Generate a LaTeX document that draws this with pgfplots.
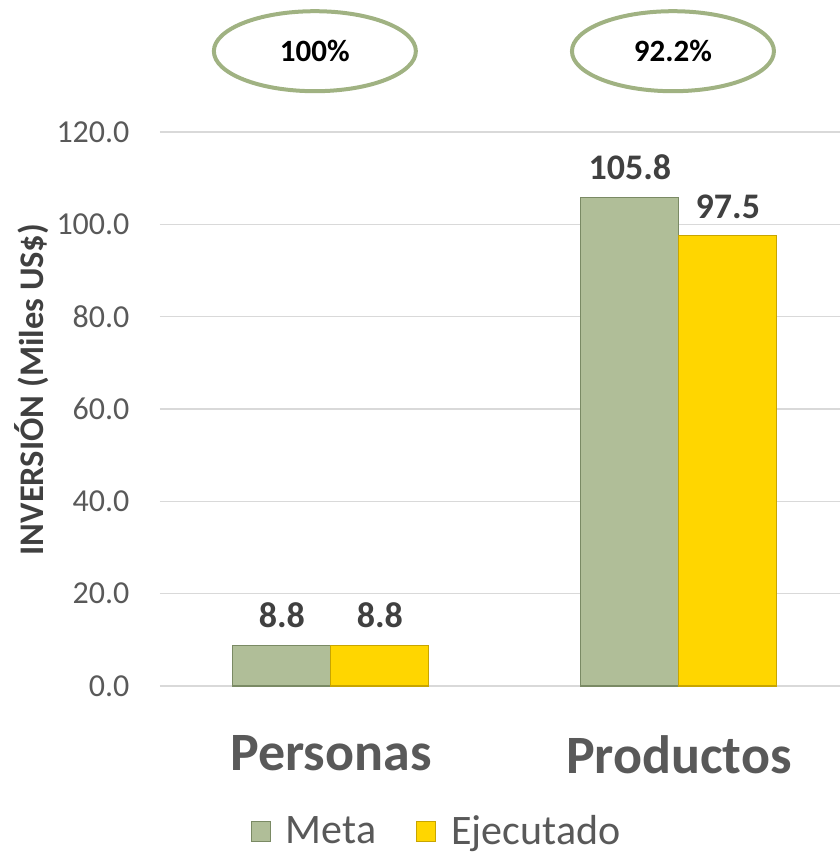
\documentclass[border=0pt]{standalone}
\usepackage{fontspec}
\setmainfont{Carlito}
\usepackage{pgfplots}
\pgfplotsset{compat=1.18}
\usetikzlibrary{shapes.geometric}
\definecolor{meta}{RGB}{176,190,152}
\definecolor{metab}{RGB}{122,138,100}
\definecolor{ejec}{RGB}{255,214,0}
\definecolor{ejecb}{RGB}{200,165,0}
\definecolor{gridc}{RGB}{217,217,217}
\definecolor{tickc}{RGB}{89,89,89}
\definecolor{lab}{RGB}{64,64,64}
\definecolor{ell}{RGB}{160,178,130}
\begin{document}
\begin{tikzpicture}
\useasboundingbox (0,0) rectangle (840pt,855pt);
\begin{axis}[
  at={(160pt,169pt)}, anchor=south west,
  scale only axis, width=680pt, height=554pt,
  ybar=0pt, bar width=98pt,
  xmin=-0.491, xmax=1.463,
  ymin=0, ymax=120,
  xtick={0,1}, xticklabels={Personas,Productos},
  ytick={0,20,...,120},
  ymajorgrids, grid style={gridc, line width=1.5pt},
  axis line style={draw=none},
  major tick length=0pt,
  /pgf/number format/assume math mode=true,
  yticklabel={\pgfmathprintnumber[fixed,fixed zerofill,precision=1]{\tick}},
  yticklabel style={font=\fontsize{32}{38}\selectfont, text=tickc, xshift=-27pt},
  xticklabel style={font=\fontsize{54}{60}\selectfont\bfseries, text=tickc, yshift=-46pt},
  ylabel={\textbf{INVERSIÓN (Miles US\$)}},
  ylabel style={font=\fontsize{34.5}{40}\selectfont, text=lab, at={(rel axis cs:0,0.535)}, anchor=center, xshift=0pt, yshift=128pt},
  nodes near coords={\pgfmathprintnumber[fixed,fixed zerofill,precision=1]{\pgfplotspointmeta}},
  nodes near coords style={font=\fontsize{36}{40}\selectfont\bfseries, text=lab, anchor=south, inner sep=0pt, yshift=17pt},
  legend style={at={(0.4054,-0.262)}, anchor=center, legend columns=2, draw=none, font=\fontsize{42}{46}\selectfont, text=tickc, nodes={inner sep=0pt},
    /tikz/every odd column/.append style={column sep=15pt},
    /tikz/every even column/.append style={column sep=40pt}},
  legend image code/.code={\draw[#1, line width=1pt] (0pt,-10pt) rectangle (19pt,10pt);},
  clip=false,
]
\addplot[fill=meta, draw=metab, line width=1.2pt] coordinates {(0,8.8) (1,105.8)};
\addplot[fill=ejec, draw=ejecb, line width=1.2pt] coordinates {(0,8.8) (1,97.5)};
\legend{Meta,Ejecutado}
\node[draw=ell, line width=4pt, ellipse, minimum width=202pt, minimum height=80pt, inner sep=0pt, font=\fontsize{31}{34}\selectfont\bfseries] at (axis cs:-0.046,137.5) {100\%};
\node[draw=ell, line width=4pt, ellipse, minimum width=202pt, minimum height=80pt, inner sep=0pt, font=\fontsize{31}{34}\selectfont\bfseries] at (axis cs:0.983,137.5) {92.2\%};
\end{axis}
\end{tikzpicture}
\end{document}
